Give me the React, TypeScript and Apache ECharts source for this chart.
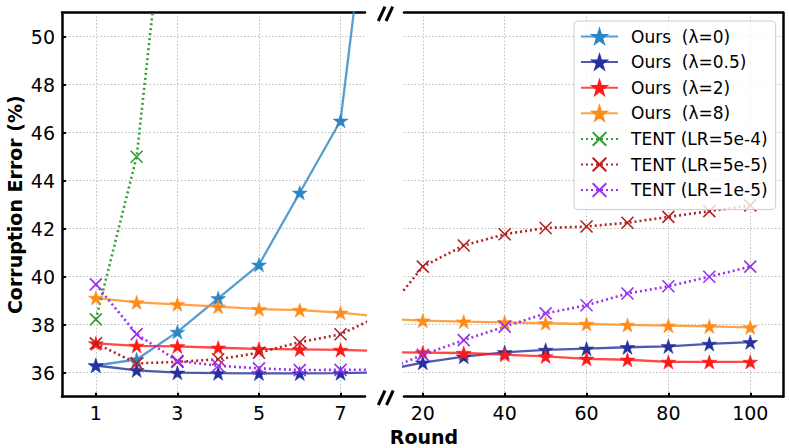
import React, { useEffect, useRef } from "react";
import * as echarts from "echarts";

const rounds = [1, 2, 3, 4, 5, 6, 7, 8, 9, 10, 20, 30, 40, 50, 60, 70, 80, 90, 100];

const oursL0 = [36.3, 36.55, 37.7, 39.1, 40.5, 43.5, 46.5, 60.4, null, null, null, null, null, null, null, null, null, null, null];
const oursL05 = [36.3, 36.1, 36.0, 35.98, 35.97, 35.97, 35.98, 36.02, 36.05, 36.08, 36.42, 36.67, 36.85, 36.95, 37.0, 37.06, 37.1, 37.2, 37.27];
const oursL2 = [37.22, 37.12, 37.1, 37.04, 36.99, 36.97, 36.95, 36.9, 36.88, 36.86, 36.84, 36.82, 36.75, 36.68, 36.58, 36.54, 36.45, 36.45, 36.45];
const oursL8 = [39.12, 38.93, 38.85, 38.75, 38.65, 38.61, 38.5, 38.33, 38.29, 38.25, 38.17, 38.13, 38.1, 38.06, 38.03, 37.99, 37.96, 37.93, 37.89];
const tent54 = [38.22, 45.0, 60.4, null, null, null, null, null, null, null, null, null, null, null, null, null, null, null, null];
const tent55 = [37.22, 36.39, 36.45, 36.56, 36.83, 37.27, 37.6, 38.4, 38.35, 38.3, 40.42, 41.3, 41.77, 42.03, 42.09, 42.25, 42.49, 42.73, 42.97];
const tent15 = [39.68, 37.61, 36.49, 36.29, 36.18, 36.11, 36.12, 36.12, 36.1, 36.05, 36.74, 37.36, 37.92, 38.47, 38.81, 39.3, 39.6, 40.0, 40.42];

const leftTicks = [1, 3, 5, 7];
const rightTicks = [20, 40, 60, 80, 100];
const yTicks = [36, 38, 40, 42, 44, 46, 48, 50];

const seriesDefs = [
  { name: "Ours  (λ=0)", data: oursL0, color: "#2b86c6", kind: "star" },
  { name: "Ours  (λ=0.5)", data: oursL05, color: "#23329c", kind: "star" },
  { name: "Ours  (λ=2)", data: oursL2, color: "#ff1a1a", kind: "star" },
  { name: "Ours  (λ=8)", data: oursL8, color: "#ff8c1a", kind: "star" },
  { name: "TENT (LR=5e-4)", data: tent54, color: "#2ca02c", kind: "x" },
  { name: "TENT (LR=5e-5)", data: tent55, color: "#b22222", kind: "x" },
  { name: "TENT (LR=1e-5)", data: tent15, color: "#9b30f0", kind: "x" },
];

const STAR =
  "path://M50,0 L61.2,34.5 L97.6,34.5 L68.2,55.9 L79.4,90.5 L50,69.1 L20.6,90.5 L31.8,55.9 L2.4,34.5 L38.8,34.5 Z";
const XMARK = "path://M0,0 L10,10 M10,0 L0,10";

const FONT = "DejaVu Sans";

export default function App() {
  const ref = useRef<HTMLDivElement>(null);
  useEffect(() => {
    if (!ref.current) return;
    const chart = echarts.init(ref.current, null, { renderer: "svg" });

    const grids = [
      { left: 62, top: 12.7, width: 303, height: 384 },
      { left: 404, top: 12.7, width: 379, height: 384 },
    ];

    const spine = { show: true, onZero: false, lineStyle: { color: "#000", width: 2.5 } };
    const gridLine = { show: true, lineStyle: { color: "#bdbdbd", width: 1, type: [1.5, 2] } };
    const tickIn = { show: true, inside: true, length: 4, lineStyle: { color: "#000", width: 2 } };
    const tickLabel = { fontFamily: FONT, fontSize: 19, color: "#000", margin: 7 };

    const xAxis = [
      {
        type: "value", gridIndex: 0, min: 0.17, max: 7.6, position: "bottom",
        axisLine: spine, axisTick: { ...tickIn, customValues: leftTicks },
        axisLabel: { ...tickLabel, customValues: leftTicks }, splitLine: gridLine,
      },
      {
        type: "value", gridIndex: 0, min: 0.17, max: 7.6, position: "top",
        axisLine: spine, axisTick: { show: false }, axisLabel: { show: false }, splitLine: { show: false },
      },
      {
        type: "value", gridIndex: 1, min: 15.4, max: 108, position: "bottom",
        axisLine: spine, axisTick: { ...tickIn, customValues: rightTicks },
        axisLabel: { ...tickLabel, customValues: rightTicks }, splitLine: gridLine,
      },
      {
        type: "value", gridIndex: 1, min: 15.4, max: 108, position: "top",
        axisLine: spine, axisTick: { show: false }, axisLabel: { show: false }, splitLine: { show: false },
      },
    ];

    const yAxis = [
      {
        type: "value", gridIndex: 0, min: 35, max: 51, position: "left",
        axisLine: spine, axisTick: { ...tickIn, customValues: yTicks },
        axisLabel: { ...tickLabel, customValues: yTicks }, splitLine: gridLine,
        name: "Corruption Error (%)", nameLocation: "middle", nameGap: 38,
        nameTextStyle: { fontFamily: FONT, fontSize: 19, fontWeight: "bold", color: "#000" },
      },
      {
        type: "value", gridIndex: 1, min: 35, max: 51, position: "right",
        axisLine: spine, axisTick: { show: false, customValues: yTicks },
        axisLabel: { show: false, customValues: yTicks }, splitLine: gridLine,
      },
    ];

    const series: any[] = [];
    for (const panel of [0, 1]) {
      for (const d of seriesDefs) {
        const isStar = d.kind === "star";
        series.push({
          type: "line",
          name: d.name,
          xAxisIndex: panel === 0 ? 0 : 2,
          yAxisIndex: panel,
          data: rounds.map((r, i) => [r, d.data[i]]),
          connectNulls: false,
          clip: true,
          symbol: isStar ? STAR : XMARK,
          symbolKeepAspect: true,
          symbolSize: isStar ? 15 : 12,
          showAllSymbol: true,
          lineStyle: isStar
            ? { color: d.color, width: 2.3, opacity: 0.8 }
            : { color: d.color, width: 2.6, type: [2, 3] },
          itemStyle: isStar
            ? { color: d.color, borderColor: d.color, borderWidth: 0.5 }
            : { color: "rgba(0,0,0,0)", borderColor: d.color, borderWidth: 1.6 },
          emphasis: { disabled: true },
          z: 2,
        });
      }
    }

    chart.setOption({
      animation: false,
      backgroundColor: "#fff",
      grid: grids,
      xAxis,
      yAxis,
      series,
      legend: {
        left: 574,
        top: 21,
        orient: "vertical",
        itemWidth: 37,
        itemHeight: 17,
        itemGap: 8.6,
        padding: [7, 8, 11, 6],
        backgroundColor: "rgba(255,255,255,0.8)",
        borderColor: "#cccccc",
        borderWidth: 1,
        borderRadius: 4,
        selectedMode: false,
        textStyle: { fontFamily: FONT, fontSize: 17, color: "#000", padding: [0, 0, 0, 8] },
        data: seriesDefs.map((d) => d.name),
      },
      graphic: [
        { type: "line", shape: { x1: 378.3, y1: 21, x2: 385, y2: 6.7 }, style: { stroke: "#000", lineWidth: 3 } },
        { type: "line", shape: { x1: 386, y1: 21, x2: 392.7, y2: 6.7 }, style: { stroke: "#000", lineWidth: 3 } },
        { type: "line", shape: { x1: 378.3, y1: 405, x2: 385, y2: 390.5 }, style: { stroke: "#000", lineWidth: 3 } },
        { type: "line", shape: { x1: 386.5, y1: 405, x2: 393.2, y2: 390.5 }, style: { stroke: "#000", lineWidth: 3 } },
        {
          type: "text", x: 424, y: 437,
          style: { text: "Round", fontFamily: FONT, fontSize: 19, fontWeight: "bold", fill: "#000", align: "center", verticalAlign: "middle" },
        },
      ],
    });
    return () => chart.dispose();
  }, []);
  return <div ref={ref} style={{ position: "fixed", left: 0, top: 0, width: 789, height: 448 }} />;
}
